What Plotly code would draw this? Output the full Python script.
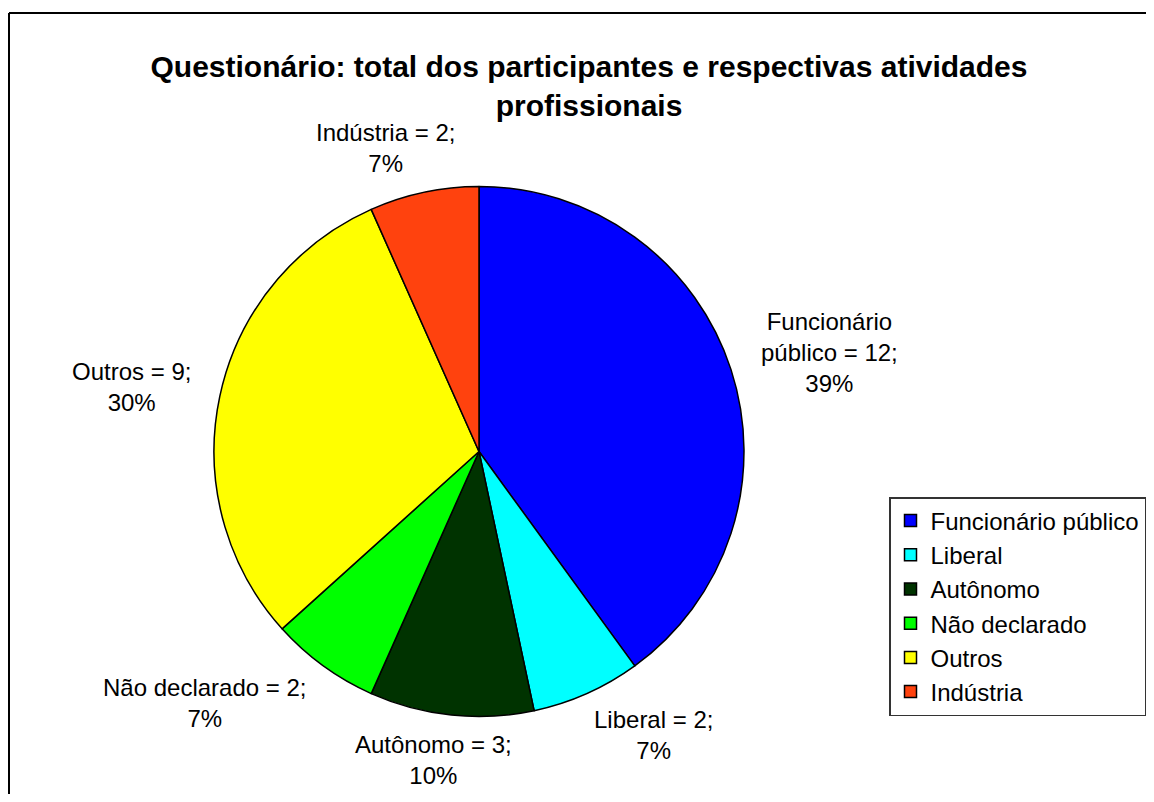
import numpy as np
import plotly.graph_objects as go

# data
categories = ["Funcionário público", "Liberal", "Autônomo", "Não declarado", "Outros", "Indústria"]
counts = [12, 2, 3, 2, 9, 2]
pct_labels = ["39%", "7%", "10%", "7%", "30%", "7%"]
label_names = ["Funcionário<br>público", "Liberal", "Autônomo", "Não declarado", "Outros", "Indústria"]
colors = ["#0000FF", "#00FFFF", "#003300", "#00FF00", "#FFFF00", "#FF420E"]

# page is 1154x802, body margin of 8px around the figure
OFF = 8
W, H = 1154 - 2 * OFF, 802 - 2 * OFF
FONT = "Arial, Liberation Sans, sans-serif"
FS = 24


def px(x):
    return (x - OFF) / W


def py(y):
    return 1 - (y - OFF) / H


# pie placement (page pixels)
cx, cy, R = 479, 451.5, 265

fig = go.Figure()
fig.add_trace(go.Pie(
    labels=categories,
    values=counts,
    sort=False,
    direction="clockwise",
    rotation=0,
    marker=dict(colors=colors, line=dict(color="black", width=1.5)),
    textinfo="none",
    hoverinfo="label+value+percent",
    domain=dict(x=[px(cx - R), px(cx + R)], y=[py(cy + R), py(cy - R)]),
))

# data labels outside the slices, placed from each slice's mid angle
total = sum(counts)
cum = np.cumsum([0] + counts)
annotations = []
gap = 25
line_h = FS * 1.3
for i, name in enumerate(label_names):
    mid = (cum[i] + cum[i + 1]) / 2 / total * 2 * np.pi
    ux, uy = np.sin(mid), np.cos(mid)
    text = f"{name} = {counts[i]};<br>{pct_labels[i]}"
    lines = text.split("<br>")
    w = max(len(l) for l in lines) * FS * 0.48
    h = len(lines) * line_h
    ax = cx + (R + gap) * ux
    ay = cy - (R + gap) * uy
    fx = np.clip(0.5 - ux, 0, 1)
    fy = 0.5 + 0.33 * uy
    bx = ax + (0.5 - fx) * w
    by = ay + (0.5 - fy) * h
    annotations.append(dict(
        x=px(bx), y=py(by), xref="paper", yref="paper",
        text=text, showarrow=False, xanchor="center", yanchor="middle",
        font=dict(family=FONT, size=FS, color="black"), align="center",
    ))

frame = dict(color="black", width=2)
fig.update_layout(
    width=W,
    height=H,
    margin=dict(l=0, r=0, t=0, b=0),
    paper_bgcolor="white",
    plot_bgcolor="white",
    font=dict(family=FONT, size=FS, color="black"),
    title=dict(
        text="<b>Questionário: total dos participantes e respectivas atividades<br>profissionais</b>",
        x=px(589), xanchor="center", y=py(77), yanchor="middle",
        font=dict(family=FONT, size=30, color="black"),
    ),
    legend=dict(
        x=1.0, xanchor="right", y=py(497), yanchor="top",
        bordercolor="#333333", borderwidth=1.5,
        font=dict(family=FONT, size=FS, color="black"),
        bgcolor="white",
    ),
    showlegend=True,
    annotations=annotations,
    shapes=[
        dict(type="line", xref="paper", yref="paper",
             x0=1 / W, x1=1 / W, y0=0, y1=py(13), line=frame, layer="below"),
        dict(type="line", xref="paper", yref="paper",
             x0=1 / W, x1=1, y0=py(13), y1=py(13), line=frame, layer="below"),
    ],
)

fig.write_html("out.html")
